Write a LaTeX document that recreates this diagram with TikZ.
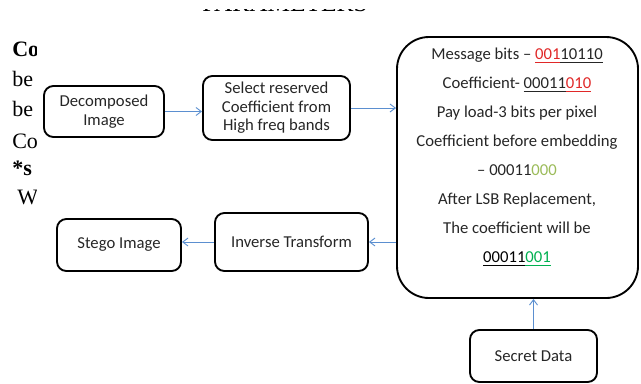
\documentclass[tikz,border=0pt]{standalone}
\usepackage{fontspec}
\setmainfont{Carlito}
\newfontfamily\bgfont{Liberation Serif}
\usetikzlibrary{arrows.meta}
\definecolor{arr}{HTML}{5B8FD0}
\definecolor{redc}{HTML}{E02828}
\definecolor{olivec}{HTML}{9BBB59}
\definecolor{greenc}{HTML}{00B050}
\definecolor{txt}{HTML}{262626}
\newcommand{\ul}[2]{{\color{#1}\underline{#2}}}
\begin{document}
\begin{tikzpicture}[x=0.75pt,y=-0.75pt,
  box/.style={draw=black, line width=1.4pt, rounded corners=7pt, align=center,
    font=\fontsize{12.5pt}{14pt}\selectfont, text=txt, inner sep=0pt},
  flow/.style={draw=arr, line width=0.7pt, -{Straight Barb[length=4pt,width=6pt]}},
  bgtext/.style={font=\bgfont\fontsize{16.5pt}{18pt}\selectfont, anchor=base west, inner sep=0pt},
  mask/.style={fill=white, draw=none}
]
\useasboundingbox (0,0) rectangle (641,383);
% background text fragments (partly hidden, as in the reference)
\node[bgtext] (l1) at (12,56) {\bfseries Co};
\node[bgtext] (l2) at (12,86) {be};
\node[bgtext] (l3) at (12,116) {be};
\node[bgtext] (l4) at (12,148) {Co};
\node[bgtext] (l5) at (12,175) {\bfseries *s};
\node[bgtext] (l6) at (17,204) {W};
\node[font=\bgfont\fontsize{19pt}{22pt}\selectfont, anchor=base, inner sep=0pt] (top) at (285,11.5) {PARAMETERS};
\path[mask] (150,0) rectangle (420,9);
\path[mask] (37,30) rectangle (43,215);
% boxes
\node[box, minimum width=90pt, minimum height=38.25pt] (dec) at (104,111.5) {Decomposed\\Image};
\node[box, minimum width=110.25pt, minimum height=48pt, font=\fontsize{12.5pt}{13.9pt}\selectfont] (sel) at (276.5,108) {Select reserved\\Coefficient from\\High freq bands};
\node[box, minimum width=180.75pt, minimum height=195.75pt, rounded corners=24pt] (big) at (517.5,167.5) {};
\node[align=center, text=txt, font=\fontsize{12.5pt}{21.75pt}\selectfont, inner sep=0pt] (bigtxt) at (517,157) {%
  Message bits -- \ul{redc}{001}\ul{txt}{10110}\\
  Coefficient- \ul{txt}{00011}\ul{redc}{010}\\
  Pay load-3 bits per pixel\\
  Coefficient before embedding\\
  -- 00011{\color{olivec}000}\\
  After LSB Replacement,\\
  The coefficient will be\\
  \ul{black}{00011}\ul{greenc}{001}};
\node[box, minimum width=93pt, minimum height=39pt] (stego) at (119,245) {Stego Image};
\node[box, minimum width=114.75pt, minimum height=43.5pt] (inv) at (291.5,242) {Inverse Transform};
\node[box, minimum width=95.25pt, minimum height=39pt] (sec) at (533.5,356) {Secret Data};
% connectors
\draw[flow] (dec.east) -- (dec.east -| sel.west);
\draw[flow] (sel.east) -- (sel.east -| big.west);
\draw[flow] (big.west |- inv.east) -- (inv.east);
\draw[flow] (inv.west) -- (inv.west -| stego.east);
\draw[flow] (sec.north) -- (sec.north |- big.south);
\end{tikzpicture}
\end{document}
